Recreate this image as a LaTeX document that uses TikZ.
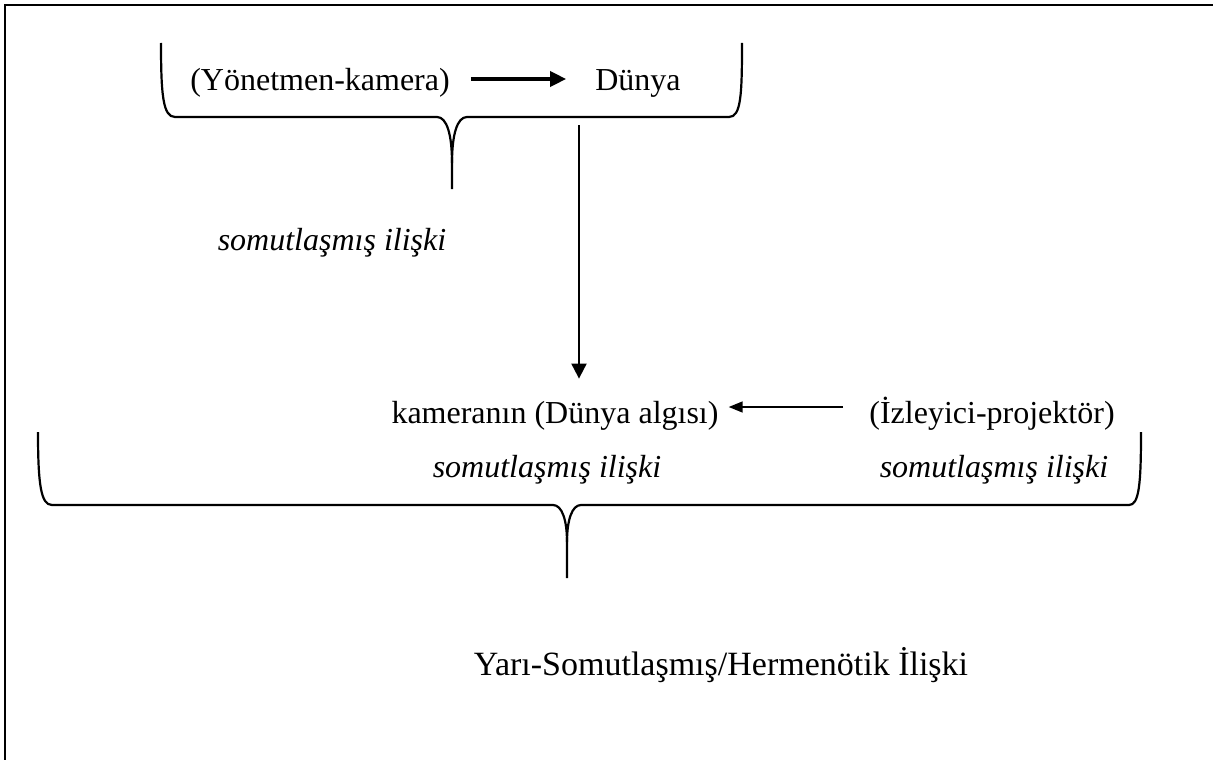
\documentclass[tikz,border=0pt]{standalone}
\usepackage{fontspec}
\setmainfont{Liberation Serif}
\usetikzlibrary{arrows.meta}
\begin{document}
\begin{tikzpicture}[x=1pt,y=-1pt,
  txt/.style={inner sep=0pt, anchor=base, font=\fontsize{32}{38}\selectfont},
  itxt/.style={inner sep=0pt, anchor=base, font=\fontsize{32}{38}\selectfont\itshape},
  bigtxt/.style={inner sep=0pt, anchor=base, font=\fontsize{34}{40}\selectfont},
  brace/.style={line width=2.2pt, line join=round},
  frame/.style={line width=2.6pt},
  arr/.style={line width=2pt, -{Triangle[length=15pt,width=15pt]}},
  thinarr/.style={line width=1.6pt, -{Triangle[length=14pt,width=11pt]}},
  boldarr/.style={line width=3.6pt, -{Triangle[length=16pt,width=15pt]}}]
\useasboundingbox (0,0) rectangle (1213,760);
% outer frame (top and left edges)
\draw[frame] (5,760) -- (5,5) -- (1213,5);

% upper brace
\draw[brace] (161,43) .. controls (161,95) and (163,117) .. (175,117) -- (437,117)
  .. controls (447,117) and (452,135) .. (452,163) -- (452,189);
\draw[brace] (452,163) .. controls (452,135) and (457,117) .. (467,117) -- (729,117)
  .. controls (741,117) and (742,95) .. (742,43);

% lower brace
\draw[brace] (38,432) .. controls (38,485) and (41,505) .. (52,505) -- (553,505)
  .. controls (562,505) and (567,520) .. (567,542) -- (567,578);
\draw[brace] (567,542) .. controls (567,520) and (572,505) .. (581,505) -- (1129,505)
  .. controls (1139,505) and (1141,485) .. (1141,432);

% labels
\node[txt] (yk) at (320,91) {(Yönetmen-kamera)};
\node[txt] (du) at (638,91) {Dünya};
\node[itxt] (s1) at (332,250) {somutlaşmış ilişki};
\node[txt] (kam) at (555,423) {kameranın (Dünya algısı)};
\node[txt] (izl) at (992,423) {(İzleyici-projektör)};
\node[itxt] (s2) at (547,477) {somutlaşmış ilişki};
\node[itxt] (s3) at (994,477) {somutlaşmış ilişki};
\node[bigtxt] (yari) at (721,675) {Yarı-Somutlaşmış/Hermenötik İlişki};

% connectors
\draw[boldarr] ([shift={(21pt,12pt)}]yk.base east) -- ([shift={(-29pt,12pt)}]du.base west);
\coordinate (vtop) at (579,125);
\draw[arr, shorten >=22pt] (vtop) -- (vtop |- kam.north);
\draw[thinarr] ([shift={(-26pt,16pt)}]izl.base west) -- ([shift={(10pt,16pt)}]kam.base east);
\end{tikzpicture}
\end{document}
